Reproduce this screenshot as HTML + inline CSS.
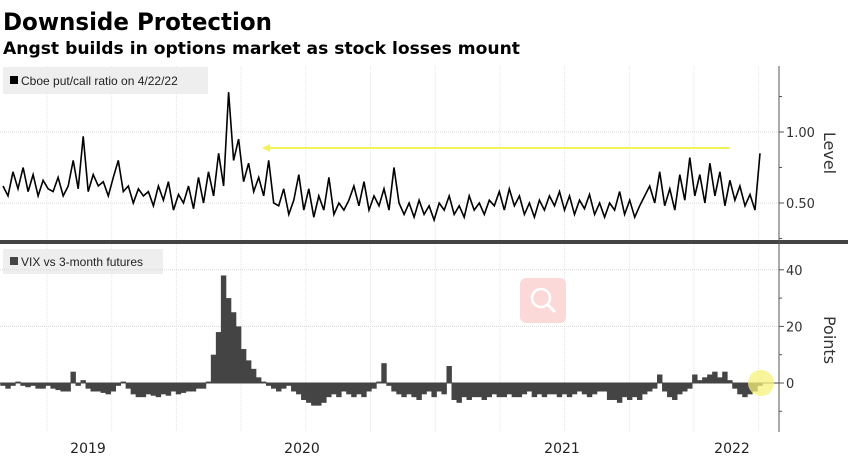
<!DOCTYPE html>
<html><head><meta charset="utf-8">
<style>
html,body{margin:0;padding:0;background:#fff;}
svg{display:block;font-family:"DejaVu Sans","Liberation Sans",sans-serif;}
</style></head>
<body>
<svg id="chart" width="848" height="459" viewBox="0 0 848 459" xmlns="http://www.w3.org/2000/svg">
<text x="3" y="30" font-size="24" font-weight="bold" textLength="269" lengthAdjust="spacingAndGlyphs">Downside Protection</text>
<text x="3" y="54" font-size="17" font-weight="bold" textLength="517" lengthAdjust="spacingAndGlyphs">Angst builds in options market as stock losses mount</text>
<g id="grid"></g>
<rect x="3" y="67" width="205" height="27" fill="#eeeeee"/>
<rect x="10" y="76" width="8" height="8" fill="#000"/>
<text x="21" y="85" font-size="12" font-family="Liberation Sans Narrow, Liberation Sans, sans-serif" fill="#222">Cboe put/call ratio on 4/22/22</text>
<rect x="3" y="249" width="160" height="25" fill="#eeeeee"/>
<rect x="10" y="257" width="8" height="8" fill="#444"/>
<text x="21" y="266" font-size="12" font-family="Liberation Sans Narrow, Liberation Sans, sans-serif" fill="#222">VIX vs 3-month futures</text>
<rect x="520" y="278" width="46" height="45" rx="6" fill="#fbd9d9"/>
<circle cx="541" cy="298" r="9" fill="none" stroke="#fff" stroke-width="2.5"/>
<line x1="548" y1="305" x2="555" y2="312" stroke="#fff" stroke-width="3"/>
<g id="topPanel"></g>
<g id="botPanel"></g>
<line x1="730" y1="148" x2="266" y2="148" stroke="#f2f25a" stroke-width="2"/>
<polygon points="262,148 270,144 270,152" fill="#f2f25a"/>
<circle cx="761" cy="383" r="13" fill="#f5f27a" opacity="0.75"/>
<rect x="0" y="240" width="848" height="4" fill="#444"/>
<line x1="779" y1="66" x2="779" y2="432" stroke="#555" stroke-width="1"/>
<text transform="translate(824,153) rotate(90)" font-size="16" text-anchor="middle" fill="#333">Level</text>
<text transform="translate(824,340) rotate(90)" font-size="16" text-anchor="middle" fill="#333">Points</text>
<g id="xl"></g>
</svg>
<script>
const pcValues=[0.62,0.55,0.72,0.60,0.75,0.58,0.70,0.55,0.66,0.60,
0.58,0.68,0.55,0.62,0.80,0.60,0.97,0.58,0.70,0.62,
0.65,0.55,0.68,0.80,0.58,0.62,0.50,0.60,0.55,0.58,
0.48,0.62,0.52,0.65,0.45,0.56,0.50,0.62,0.46,0.68,
0.50,0.72,0.55,0.85,0.62,1.28,0.80,0.95,0.65,0.78,
0.58,0.68,0.55,0.80,0.50,0.48,0.60,0.42,0.52,0.70,
0.45,0.60,0.40,0.55,0.45,0.68,0.42,0.50,0.45,0.52,
0.62,0.48,0.65,0.45,0.55,0.48,0.60,0.45,0.75,0.50,
0.42,0.50,0.40,0.52,0.42,0.48,0.38,0.50,0.45,0.55,
0.42,0.48,0.40,0.55,0.45,0.50,0.42,0.52,0.48,0.58,
0.45,0.60,0.48,0.55,0.42,0.50,0.40,0.52,0.45,0.55,
0.48,0.58,0.45,0.55,0.42,0.52,0.46,0.56,0.42,0.50,
0.40,0.50,0.45,0.58,0.42,0.52,0.40,0.48,0.55,0.62,
0.50,0.72,0.48,0.60,0.45,0.70,0.52,0.82,0.55,0.70,
0.50,0.78,0.55,0.72,0.48,0.66,0.52,0.62,0.48,0.56,
0.45,0.85];
const vixValues=[-1,-2,-1,0.5,-1,-1.5,-1,-2,-2,-1,
-2,-2.5,-3,-3,4,-1,1,-2,-3,-3,
-3.5,-4,-3,-1,0.5,-2,-4,-5,-5,-4,
-4.5,-5,-4,-4.5,-3,-4,-3.5,-3,-3,-2,
-2,0.5,10,18,38,30,25,20,12,8,
5,2,0.5,-1,-2,-3,-2,-1,-3,-4,
-6,-7,-8,-8,-7,-5,-4,-5,-3,-4,
-5,-4,-5,-3,-2,0.5,7,-1,-3,-4,
-5,-4,-5,-6,-4,-3,-5,-3,-4,6,
-6,-7,-5,-6,-5,-5,-6,-5,-4,-5,
-5,-4,-5,-5,-4,-3,-5,-4,-5,-4,
-4,-5,-4,-5,-4,-3,-4,-5,-4,-3,
-3,-6,-6,-7,-5,-6,-5,-6,-4,-3,
-2,3,-3,-5,-6,-4,-3,-2,3,1,
2,3,4,2,4,1,-2,-4,-5,-4,
-3,-1];
const pcTicks=[1.00,0.50];
const vixTicks=[40,20,0];
const yearLabels=["2019","2020","2021","2022"];
const NS="http://www.w3.org/2000/svg";
function mk(tag,attrs,parent){const e=document.createElementNS(NS,tag);for(const k in attrs)e.setAttribute(k,attrs[k]);parent.appendChild(e);return e;}
const X=i=>3+i*757/(pcValues.length-1);
const Ypc=v=>203-(v-0.5)*142;
const Yvx=v=>383-v*2.83;
const grid=document.getElementById('grid');
for(let k=0;k<12;k++){const gx=47+k*64.7;
 const l=mk('line',{x1:gx,y1:66,x2:gx,y2:432,stroke:'#e4e4e4','stroke-dasharray':'1,1'},grid);
 
 }
const topG=document.getElementById('topPanel'),botG=document.getElementById('botPanel');
pcTicks.forEach(t=>{const y=Ypc(t);
 const g=mk('line',{x1:0,y1:y,x2:779,y2:y,stroke:'#d8d8d8','stroke-dasharray':'1,1'},topG);
 
 
 mk('line',{x1:779,y1:y,x2:784,y2:y,stroke:'#555'},topG);
 const tx=mk('text',{x:786,y:y+5,'font-size':13,fill:'#333'},topG);tx.textContent=t.toFixed(2);
 
 });
[1.25,0.75,0.25].forEach(t=>mk('line',{x1:779,y1:Ypc(t),x2:782,y2:Ypc(t),stroke:'#555'},topG));
vixTicks.forEach(t=>{const y=Yvx(t);
 const g=mk('line',{x1:0,y1:y,x2:779,y2:y,stroke:'#d8d8d8','stroke-dasharray':'1,1'},botG);
 
 
 mk('line',{x1:779,y1:y,x2:784,y2:y,stroke:'#555'},botG);
 const tx=mk('text',{x:786,y:y+5,'font-size':13,fill:'#333'},botG);tx.textContent=String(t);
 
 });
[30,10,-10].forEach(t=>mk('line',{x1:779,y1:Yvx(t),x2:782,y2:Yvx(t),stroke:'#555'},botG));
const pts=pcValues.map((v,i)=>X(i).toFixed(1)+','+Ypc(v).toFixed(1)).join(' ');
const line=mk('polyline',{points:pts,fill:'none',stroke:'#000','stroke-width':1.6},topG);


const bw=757/(vixValues.length-1)+0.4;
vixValues.forEach((v,i)=>{const y0=Yvx(0),y1=Yvx(v);
 const b=mk('rect',{x:X(i)-bw/2,y:Math.min(y0,y1),width:bw,height:Math.abs(y1-y0),fill:'#444'},botG);
 
 });
mk('line',{x1:0,y1:Yvx(0),x2:779,y2:Yvx(0),stroke:'#444','stroke-width':1},botG);
const xl=document.getElementById('xl');const xpos=[88,302,562,732];
yearLabels.forEach((s,i)=>{const t=mk('text',{x:xpos[i],y:453,'font-size':14,'text-anchor':'middle',fill:'#222'},xl);t.textContent=s;
 
 });
</script>
</body></html>
